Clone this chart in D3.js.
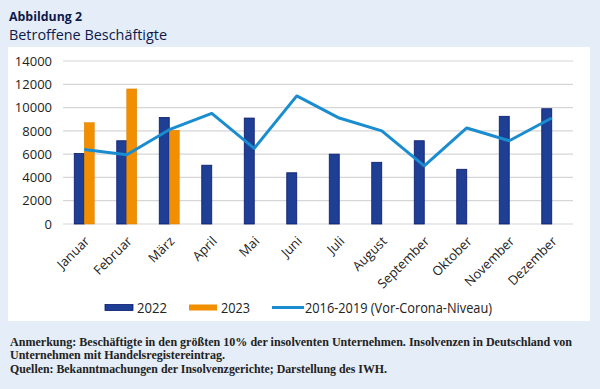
<!DOCTYPE html>
<html><head><meta charset="utf-8">
<script src="https://cdn.jsdelivr.net/npm/d3@7"></script>
<style>body{margin:0;background:#e4edf8;}svg{display:block;}</style>
</head><body>
<svg id="c" width="600" height="389"></svg>
<script>
const months = ["Januar","Februar","März","April","Mai","Juni","Juli","August","September","Oktober","November","Dezember"];
const v2022 = [6050,7150,9150,5050,9100,4400,6000,5300,7150,4700,9250,9900];
const v2023 = [8700,11600,8050,null,null,null,null,null,null,null,null,null];
const vPre = [6400,5950,8100,9500,6500,11000,9100,8000,5000,8250,7150,9100];
const yTicks = [0,2000,4000,6000,8000,10000,12000,14000];
const seriesNames = ["2022","2023","2016-2019 (Vor-Corona-Niveau)"];

const svg = d3.select("#c");
const font = "'Open Sans', sans-serif";
svg.append("rect").attr("x",0).attr("y",0).attr("width",600).attr("height",389).attr("fill","#e4edf8");
svg.append("rect").attr("x",8).attr("y",47).attr("width",582).attr("height",274).attr("fill","#ffffff");

svg.append("text").attr("x",9).attr("y",21).text("Abbildung 2")
  .attr("font-family",font).attr("font-weight","bold").attr("font-size",12.5).attr("fill","#0d1a4a")
  .attr("textLength",73).attr("lengthAdjust","spacingAndGlyphs");
svg.append("text").attr("x",9).attr("y",40).text("Betroffene Beschäftigte")
  .attr("font-family",font).attr("font-size",14.5).attr("fill","#0d1a4a")
  .attr("textLength",158).attr("lengthAdjust","spacingAndGlyphs");

const x = d3.scaleBand().domain(months).range([63,573]);
const y = d3.scaleLinear().domain([0,14000]).range([224,61]);

const g = svg.append("g");
// grid
g.selectAll(".grid").data(yTicks).join("line")
  .attr("x1",63).attr("x2",573).attr("y1",d=>y(d)).attr("y2",d=>y(d))
  .attr("stroke","#d6d6d6").attr("stroke-width",1.2);

// y axis
const yAxis = d3.axisLeft(y).tickValues(yTicks).tickSize(0).tickPadding(0).tickFormat(d3.format("d"));
const ya = svg.append("g").attr("transform","translate(52,0)").call(yAxis);
ya.select(".domain").remove();
ya.selectAll("text").attr("font-family",font).attr("font-size",13).attr("fill","#222");

// bars
const bw = 10;
g.selectAll(".b22").data(months.map((m,i)=>({m,v:v2022[i]}))).join("rect")
  .attr("x",d=>x(d.m)+x.bandwidth()/2-bw).attr("width",bw)
  .attr("y",d=>y(d.v)).attr("height",d=>y(0)-y(d.v))
  .attr("fill","#1e3f93").attr("stroke","#0b1a6e").attr("stroke-width",0.8);
g.selectAll(".b23").data(months.map((m,i)=>({m,v:v2023[i]})).filter(d=>d.v!=null)).join("rect")
  .attr("x",d=>x(d.m)+x.bandwidth()/2).attr("width",bw)
  .attr("y",d=>y(d.v)).attr("height",d=>y(0)-y(d.v))
  .attr("fill","#f18f01").attr("stroke","#d97e00").attr("stroke-width",0.5);

// line
const line = d3.line().x((d,i)=>x(months[i])+x.bandwidth()/2).y(d=>y(d));
g.append("path").datum(vPre).attr("d",line).attr("fill","none")
  .attr("stroke","#1a8dd0").attr("stroke-width",3).attr("stroke-linejoin","round");

// x axis labels
const xAxis = d3.axisBottom(x).tickSize(0).tickPadding(0);
const xa = svg.append("g").attr("transform","translate(0,224)").call(xAxis);
xa.select(".domain").remove();
xa.selectAll("text").attr("font-family",font).attr("font-size",13).attr("fill","#222")
  .attr("text-anchor","end").attr("dy",0).attr("y",0)
  .attr("transform","translate(6,18) rotate(-45)");

// legend
const ly = 307.5;
const leg = svg.append("g");
leg.append("rect").attr("x",105).attr("y",ly-3).attr("width",28).attr("height",6).attr("fill","#1e3f93").attr("stroke","#0b1a6e").attr("stroke-width",0.8);
leg.append("text").attr("x",137).attr("y",ly+5).text(seriesNames[0]).attr("font-family",font).attr("font-size",14).attr("fill","#222")
  .attr("textLength",30).attr("lengthAdjust","spacingAndGlyphs");
leg.append("rect").attr("x",189).attr("y",ly-3).attr("width",28).attr("height",6).attr("fill","#f18f01");
leg.append("text").attr("x",221).attr("y",ly+5).text(seriesNames[1]).attr("font-family",font).attr("font-size",14).attr("fill","#222")
  .attr("textLength",29).attr("lengthAdjust","spacingAndGlyphs");
leg.append("line").attr("x1",272).attr("x2",304).attr("y1",ly).attr("y2",ly).attr("stroke","#1a8dd0").attr("stroke-width",3);
leg.append("text").attr("x",305).attr("y",ly+5).text(seriesNames[2]).attr("font-family",font).attr("font-size",14).attr("fill","#222")
  .attr("textLength",187).attr("lengthAdjust","spacingAndGlyphs");

// notes
const sf = "'Liberation Serif', serif";
const notes = [
  ["Anmerkung: Beschäftigte in den größten 10% der insolventen Unternehmen. Insolvenzen in Deutschland von",346,562],
  ["Unternehmen mit Handelsregistereintrag.",358.5,215],
  ["Quellen: Bekanntmachungen der Insolvenzgerichte; Darstellung des IWH.",373,377]
];
notes.forEach(([t,yy,w])=>{
  svg.append("text").attr("x",10).attr("y",yy).text(t)
    .attr("font-family",sf).attr("font-size",11.5).attr("font-weight","bold").attr("fill","#222")
    .attr("textLength",w).attr("lengthAdjust","spacingAndGlyphs");
});
</script>
</body></html>
